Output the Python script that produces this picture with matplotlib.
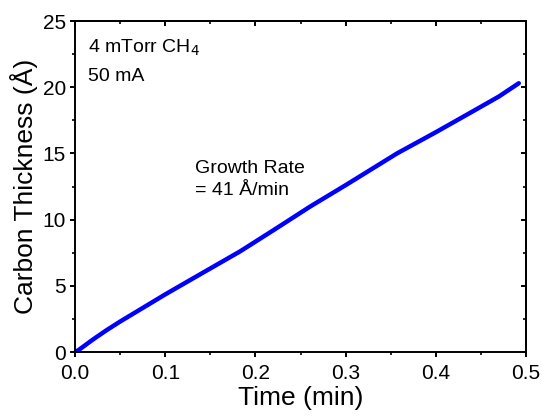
import matplotlib
matplotlib.use('Agg')
import matplotlib.pyplot as plt

plt.rcParams['font.family'] = ['Liberation Sans', 'DejaVu Sans']

# Data
time_min = [0, 0.004, 0.01, 0.02, 0.035, 0.05, 0.1, 0.128, 0.183, 0.22, 0.261,
            0.30, 0.357, 0.40, 0.439, 0.47, 0.492]
thickness = [0, 0.15, 0.45, 0.95, 1.65, 2.3, 4.35, 5.45, 7.6, 9.2, 11.0,
             12.6, 15.0, 16.6, 18.1, 19.3, 20.3]

fig = plt.figure(figsize=(5.42, 4.16), dpi=100)
ax = fig.add_axes([0.1384, 0.1538, 0.8321, 0.7957])

ax.plot(time_min, thickness, color='#0000ff', lw=3.2, solid_capstyle='round',
        solid_joinstyle='round')

ax.set_xlim(0, 0.5)
ax.set_ylim(0, 25)
ax.set_xticks([0, 0.1, 0.2, 0.3, 0.4, 0.5])
ax.set_xticklabels(['0.0', '0.1', '0.2', '0.3', '0.4', '0.5'])
ax.set_yticks([0, 5, 10, 15, 20, 25])
ax.set_xticks([0.05, 0.15, 0.25, 0.35, 0.45], minor=True)
ax.set_yticks([2.5, 7.5, 12.5, 17.5, 22.5], minor=True)

for s in ax.spines.values():
    s.set_linewidth(1.4)

ax.tick_params(which='major', direction='out', length=3.5, width=1.4,
               labelsize=15)
ax.tick_params(which='minor', direction='out', length=2.2, width=1.2)
ax.tick_params(axis='x', which='major', pad=5)
ax.tick_params(axis='y', which='major', pad=3)

# mirrored ticks on top and right, pointing inwards
top = ax.secondary_xaxis('top')
top.set_xticks([0, 0.1, 0.2, 0.3, 0.4, 0.5])
top.set_xticks([0.05, 0.15, 0.25, 0.35, 0.45], minor=True)
top.tick_params(which='major', direction='in', length=3.5, width=1.4, labeltop=False)
top.tick_params(which='minor', direction='in', length=2.2, width=1.2)
top.spines['top'].set_linewidth(1.4)
right = ax.secondary_yaxis('right')
right.set_yticks([0, 5, 10, 15, 20, 25])
right.set_yticks([2.5, 7.5, 12.5, 17.5, 22.5], minor=True)
right.tick_params(which='major', direction='in', length=3.5, width=1.4, labelright=False)
right.tick_params(which='minor', direction='in', length=2.2, width=1.2)
right.spines['right'].set_linewidth(1.4)

ax.set_xlabel('Time (min)', fontsize=19, labelpad=2)
ax.set_ylabel('Carbon Thickness (Å)', fontsize=19, labelpad=3)

ax.text(0.014, 22.6, '4 mTorr CH$_4$', fontsize=14, va='baseline')
ax.text(0.014, 20.5, '50 mA', fontsize=14, va='baseline')
ax.text(0.133, 13.5, 'Growth Rate', fontsize=14, va='baseline')
ax.text(0.133, 11.85, '= 41 Å/min', fontsize=14, va='baseline')

plt.savefig('out.png', dpi=100)
